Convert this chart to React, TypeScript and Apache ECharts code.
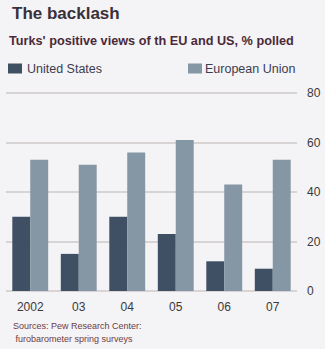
import React, { useEffect, useRef } from "react";
import * as echarts from "echarts";

const categories = ["2002", "03", "04", "05", "06", "07"];
const usValues = [30, 15, 30, 23, 12, 9];
const euValues = [53, 51, 56, 61, 43, 53];
const yTicks = [0, 20, 40, 60, 80];

const FONT = "'Liberation Sans', Arial, sans-serif";

export default function App() {
  const ref = useRef<HTMLDivElement>(null);
  useEffect(() => {
    document.body.style.margin = "0";
    document.body.style.overflow = "hidden";
    if (!ref.current) return;
    const chart = echarts.init(ref.current, undefined, { renderer: "svg" });
    chart.setOption({
      animation: false,
      backgroundColor: "#f4f3f6",
      textStyle: { fontFamily: FONT },
      title: [
        {
          text: "The backlash",
          left: 7,
          top: 0,
          textStyle: { fontFamily: FONT, fontSize: 17, fontWeight: "bold", color: "#3a3038" },
        },
        {
          text: "Turks' positive views of th EU and US, % polled",
          left: 4,
          top: 29,
          textStyle: { fontFamily: FONT, fontSize: 12.7, fontWeight: "bold", color: "#4a2a38" },
        },
        {
          text: "Sources: Pew Research Center:\n furobarometer spring surveys",
          left: 8,
          top: 314,
          textStyle: {
            fontFamily: FONT,
            fontSize: 9,
            fontWeight: "normal",
            color: "#6e3c42",
            lineHeight: 13,
          },
        },
      ],
      legend: [
        {
          data: ["United States"],
          left: 3,
          top: 57,
          itemWidth: 14,
          itemHeight: 10,
          itemGap: 4,
          icon: "rect",
          textStyle: { fontFamily: FONT, fontSize: 12.5, color: "#3c3c50", padding: [0, 0, 0, 0] },
        },
        {
          data: ["European Union"],
          left: 183,
          top: 57,
          itemWidth: 14,
          itemHeight: 10,
          icon: "rect",
          textStyle: { fontFamily: FONT, fontSize: 12.5, color: "#3c3c50", padding: [0, 0, 0, -2] },
        },
      ],
      grid: { left: 6, right: 28, top: 93, bottom: 58, containLabel: false },
      xAxis: {
        type: "category",
        data: categories,
        axisLine: { show: false },
        axisTick: { show: false },
        axisLabel: { fontFamily: FONT, fontSize: 12, color: "#3a3a3a", margin: 10 },
      },
      yAxis: {
        type: "value",
        position: "right",
        min: 0,
        max: 80,
        interval: 20,
        axisLine: { show: false },
        axisTick: { show: false },
        axisLabel: {
          fontFamily: FONT,
          fontSize: 12,
          color: "#3a3a3a",
          margin: 10,
          formatter: (v: number) => (yTicks.includes(v) ? String(v) : ""),
        },
        splitLine: { lineStyle: { color: "#cfcac8", width: 1.5 } },
      },
      series: [
        {
          name: "United States",
          type: "bar",
          data: usValues,
          barGap: "0%",
          barCategoryGap: "26%",
          itemStyle: { color: "#3f5064" },
        },
        {
          name: "European Union",
          type: "bar",
          data: euValues,
          itemStyle: { color: "#8596a4" },
        },
      ],
    });
    return () => chart.dispose();
  }, []);
  return <div ref={ref} style={{ width: 325, height: 349 }} />;
}
